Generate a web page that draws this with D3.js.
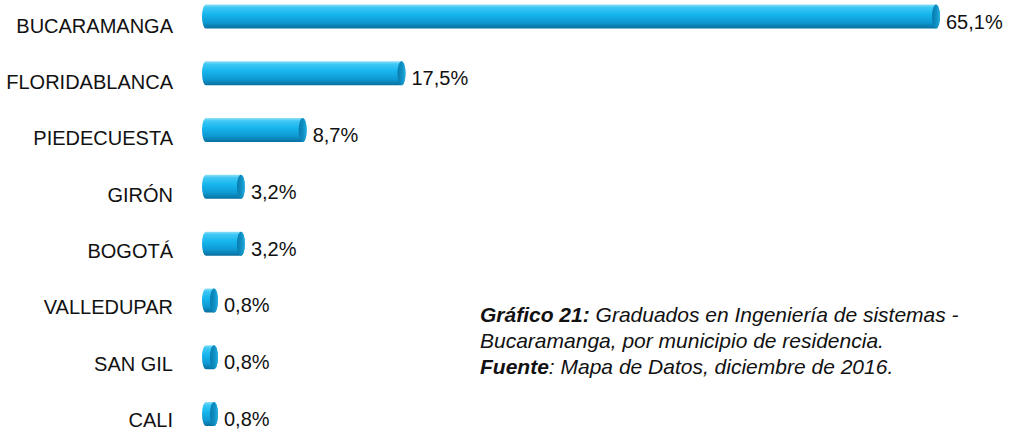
<!DOCTYPE html>
<html>
<head>
<meta charset="utf-8">
<script src="https://cdn.jsdelivr.net/npm/d3@7"></script>
<style>
  body { margin: 0; background: #fff; }
  svg { display: block; font-family: "Liberation Sans", Arial, sans-serif; }
</style>
</head>
<body>
<div id="chart"></div>
<script>
// data
var categories = ["BUCARAMANGA", "FLORIDABLANCA", "PIEDECUESTA", "GIRÓN", "BOGOTÁ", "VALLEDUPAR", "SAN GIL", "CALI"];
var values = [65.1, 17.5, 8.7, 3.2, 3.2, 0.8, 0.8, 0.8];
var valueLabels = ["65,1%", "17,5%", "8,7%", "3,2%", "3,2%", "0,8%", "0,8%", "0,8%"];

var width = 1011,
    height = 433;

var data = categories.map(function (c, i) {
    return { cat: c, value: values[i], label: valueLabels[i] };
});

var svg = d3.select("#chart").append("svg")
    .attr("width", width)
    .attr("height", height);

// gradients for the cylinder look
var defs = svg.append("defs");
var body = defs.append("linearGradient")
    .attr("id", "barBody")
    .attr("x1", 0).attr("y1", 0).attr("x2", 0).attr("y2", 1);
body.append("stop").attr("offset", "0%").attr("stop-color", "#8fe0f8");
body.append("stop").attr("offset", "12%").attr("stop-color", "#3fc8f4");
body.append("stop").attr("offset", "40%").attr("stop-color", "#17b6ee");
body.append("stop").attr("offset", "75%").attr("stop-color", "#0e99d2");
body.append("stop").attr("offset", "100%").attr("stop-color", "#086f9e");

var cap = defs.append("linearGradient")
    .attr("id", "barCap")
    .attr("x1", 0).attr("y1", 0).attr("x2", 1).attr("y2", 0);
cap.append("stop").attr("offset", "0%").attr("stop-color", "#0a7aab");
cap.append("stop").attr("offset", "60%").attr("stop-color", "#1092c6");
cap.append("stop").attr("offset", "100%").attr("stop-color", "#2aaedf");

var x0 = 202,
    barH = 24,
    capRx = 4;

var x = d3.scaleLinear()
    .domain([0, 65.1])
    .range([209, 940]);

var y = d3.scalePoint()
    .domain(categories)
    .range([16.5, 414]);

// category labels sit a little lower than the bars
var yLabel = d3.scalePoint()
    .domain(categories)
    .range([25.5, 420]);

var rows = svg.selectAll("g.row")
    .data(data)
    .enter()
    .append("g")
    .attr("class", "row");

// cylinder body
rows.append("rect")
    .attr("x", x0)
    .attr("y", d => y(d.cat) - barH / 2)
    .attr("width", d => x(d.value) - x0)
    .attr("height", barH)
    .attr("rx", capRx)
    .attr("ry", barH / 2)
    .style("fill", "url(#barBody)");

// end cap
rows.append("ellipse")
    .attr("cx", d => x(d.value) - capRx)
    .attr("cy", d => y(d.cat))
    .attr("rx", capRx)
    .attr("ry", barH / 2)
    .style("fill", "url(#barCap)");

// value labels
rows.append("text")
    .attr("x", d => x(d.value) + 6)
    .attr("y", d => y(d.cat) + 5)
    .attr("dy", "0.35em")
    .style("font-size", "20px")
    .style("fill", "#111")
    .text(d => d.label);

// category labels
rows.append("text")
    .attr("x", 173)
    .attr("y", d => yLabel(d.cat))
    .attr("dy", "0.35em")
    .attr("text-anchor", "end")
    .style("font-size", "20px")
    .style("fill", "#111")
    .text(d => d.cat);

// caption
var caption = svg.append("text")
    .attr("x", 480)
    .attr("y", 322)
    .style("font-size", "21px")
    .style("font-style", "italic")
    .style("fill", "#111");

var l1 = caption.append("tspan").attr("x", 480).attr("y", 322);
l1.append("tspan").style("font-weight", "bold").text("Gráfico 21:");
l1.append("tspan").text(" Graduados en Ingeniería de sistemas -");

caption.append("tspan").attr("x", 480).attr("y", 348)
    .text("Bucaramanga, por municipio de residencia.");

var l3 = caption.append("tspan").attr("x", 480).attr("y", 374);
l3.append("tspan").style("font-weight", "bold").text("Fuente");
l3.append("tspan").text(": Mapa de Datos, diciembre de 2016.");
</script>
</body>
</html>
